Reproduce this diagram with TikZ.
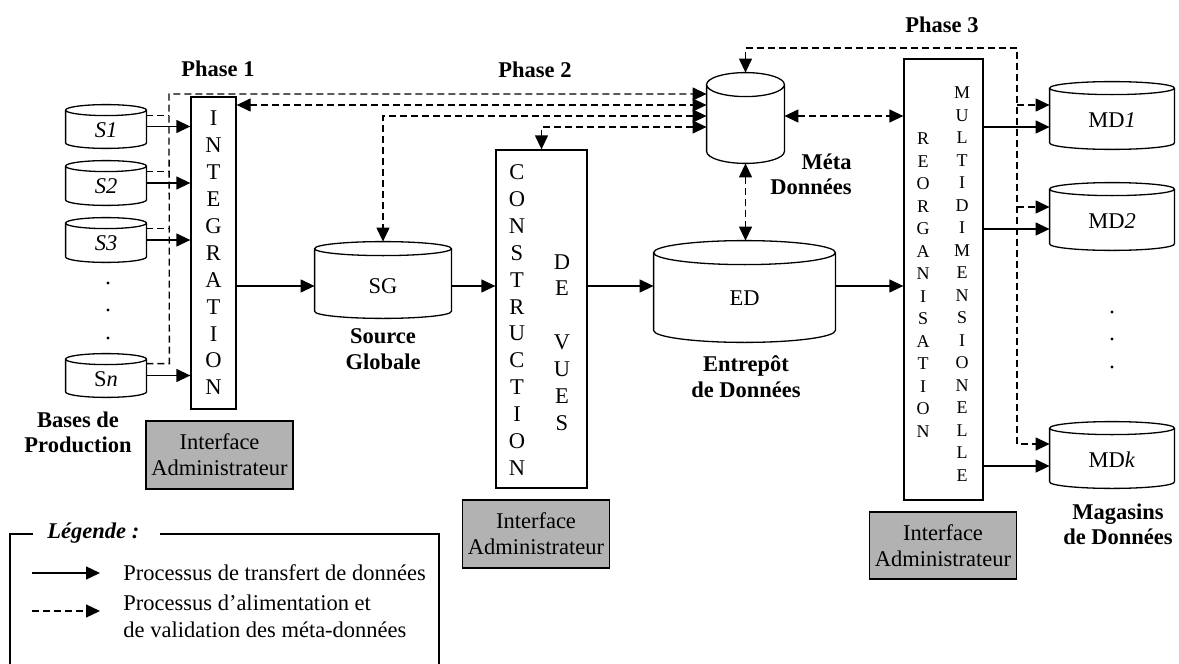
\documentclass[tikz,border=0pt]{standalone}
\usepackage{fontspec}
\setmainfont{Liberation Serif}
\usetikzlibrary{arrows.meta,calc}
\newcommand\lowtxt[2]{\raisebox{-#1}[\height][\depth]{#2}}
\newcommand\ltrfont{\fontsize{11.25}{13.45}\selectfont}
\newcommand\ltrsmall{\fontsize{9}{11.25}\selectfont}
\newcommand\cyl[2]{%
  \path[draw,line width=0.65pt] let \p1=(#1.north west), \p2=(#1.south east), \n1={(\x2-\x1)/2} in
    (\x1,\y1-#2) -- (\x1,\y2+#2) arc[start angle=180, end angle=360, x radius=\n1, y radius=#2] -- (\x2,\y1-#2)
    (\x1+\n1,\y1-#2) ellipse [x radius=\n1, y radius=#2];
}
\tikzset{
  x=0.5pt, y=-0.5pt,
  >={Triangle[length=7pt,width=6.5pt]},
  every node/.style={font=\fontsize{11.25}{13}\selectfont, inner sep=0pt},
  lw/.style={line width=0.65pt},
  body/.style={draw=none, inner sep=0pt},
  box/.style={draw, lw, inner sep=0pt},
  admin/.style={draw, lw, fill=black!30, align=center, inner sep=0pt, minimum height=34pt, minimum width=73.5pt},
  flow/.style={lw, ->},
  mline/.style={lw, dash pattern=on 3.5pt off 2pt},
  lbl/.style={font=\bfseries\fontsize{11.25}{12.75}\selectfont, align=center},
}
\begin{document}
\begin{tikzpicture}
\useasboundingbox (0,0) rectangle (1179,664);
\clip (0,0) rectangle (1179,664);

% phase labels
\node[lbl] (ph1) at (218,69) {Phase 1};
\node[lbl] (ph2) at (535,70) {Phase 2};
\node[lbl] (ph3) at (942,25) {Phase 3};

% sources
\node[body, minimum width=40pt, minimum height=21.5pt] (S1) at (106,126.5) {\lowtxt{1.75pt}{\textit{S1}}};
\node[body, minimum width=40pt, minimum height=22pt] (S2) at (106,183) {\lowtxt{1.75pt}{\textit{S2}}};
\node[body, minimum width=40pt, minimum height=22pt] (S3) at (106,240) {\lowtxt{1.75pt}{\textit{S3}}};
\node[body, minimum width=40pt, minimum height=21.5pt] (Sn) at (106,375.5) {\lowtxt{1.75pt}{S\textit{n}}};
\cyl{S1}{2.75pt}
\cyl{S2}{2.75pt}
\cyl{S3}{2.75pt}
\cyl{Sn}{2.75pt}
\fill (108,283) circle[radius=0.8pt];
\fill (108,310) circle[radius=0.8pt];
\fill (108,338) circle[radius=0.8pt];

% integration
\node[box, minimum width=22.5pt, minimum height=156pt, align=center, font=\ltrfont] (Int) at (213.5,253)
  {I\\N\\T\\E\\G\\R\\A\\T\\I\\O\\N};

% source globale
\node[body, minimum width=68pt, minimum height=38pt] (SG) at (383,280) {\lowtxt{3pt}{SG}};
\cyl{SG}{3.5pt}

% construction
\node[box, minimum width=45.5pt, minimum height=169pt] (Cons) at (541.5,319) {};
\node[align=center, font=\ltrfont] (consA) at (517,320) {C\\O\\N\\S\\T\\R\\U\\C\\T\\I\\O\\N};
\node[align=center, font=\ltrfont] (consB) at (562,342.5) {D\\E\\[13.45pt]V\\U\\E\\S};

% meta
\node[body, minimum width=38.5pt, minimum height=45pt] (Meta) at (745.5,118) {};
\cyl{Meta}{6pt}

% ED
\node[body, minimum width=90.5pt, minimum height=50.5pt] (ED) at (744.5,291.5) {\lowtxt{3.25pt}{ED}};
\cyl{ED}{6pt}

% reorganisation
\node[box, minimum width=39.5pt, minimum height=220.5pt] (Reorg) at (943.5,279.5) {};
\node[align=center, font=\ltrsmall] (reoA) at (923,285.3) {R\\E\\O\\R\\G\\A\\N\\I\\S\\A\\T\\I\\O\\N};
\node[align=center, font=\ltrsmall] (reoB) at (962,284.3) {M\\U\\L\\T\\I\\D\\I\\M\\E\\N\\S\\I\\O\\N\\E\\L\\L\\E};

% data marts
\node[body, minimum width=62pt, minimum height=33.5pt] (MD1) at (1112,115.5) {\lowtxt{2.25pt}{MD\textit{1}}};
\node[body, minimum width=62pt, minimum height=33.5pt] (MD2) at (1112,216.5) {\lowtxt{2.25pt}{MD\textit{2}}};
\node[body, minimum width=62pt, minimum height=33pt] (MDk) at (1112,455) {\lowtxt{2.25pt}{MD\textit{k}}};
\cyl{MD1}{3.25pt}
\cyl{MD2}{3.25pt}
\cyl{MDk}{3.25pt}
\fill (1112,312) circle[radius=0.8pt];
\fill (1112,339) circle[radius=0.8pt];
\fill (1112,367) circle[radius=0.8pt];

% labels
\node[lbl] (bpl) at (78,432.5) {Bases de\\Production};
\node[lbl] (sgl) at (383,349) {Source\\Globale};
\node[lbl, align=right, anchor=east] (mdl) at (852,174.5) {Méta\\Données};
\node[lbl] (edl) at (746,376.5) {Entrepôt\\de Données};
\node[lbl] (mgl) at (1118,524.5) {Magasins\\de Données};

% admin interfaces
\node[admin] (I1) at (219.5,455) {Interface\\Administrateur};
\node[admin] (I2) at (536,534) {Interface\\Administrateur};
\node[admin, minimum height=33.5pt] (I3) at (943,545.5) {Interface\\Administrateur};

% solid flows
\draw[flow] (S1.east) -- (S1.east -| Int.west);
\draw[flow] (S2.east) -- (S2.east -| Int.west);
\draw[flow] (S3.east) -- (S3.east -| Int.west);
\draw[flow] (Sn.east) -- (Sn.east -| Int.west);
\coordinate (fl) at (0,286);
\draw[flow] (Int.east |- fl) -- (SG.west |- fl);
\draw[flow] (SG.east |- fl) -- (Cons.west |- fl);
\draw[flow] (Cons.east |- fl) -- (ED.west |- fl);
\draw[flow] (ED.east |- fl) -- (Reorg.west |- fl);
\draw[flow] (Reorg.east |- 0,127) -- (MD1.west |- 0,127);
\draw[flow] (Reorg.east |- 0,229) -- (MD2.west |- 0,229);
\draw[flow] (Reorg.east |- 0,466) -- (MDk.west |- 0,466);

% dashed meta-data flows
\coordinate (j1) at (169,94);
\draw[mline] ($(S1.north east)+(0,11)$) -- ++(23,0);
\draw[mline] ($(S2.north east)+(0,11)$) -- ++(23,0);
\draw[mline] ($(S3.north east)+(0,11)$) -- ++(23,0);
\draw[mline,->] ($(Sn.north east)+(0,10)$) -- ++(23,0) -- (j1) -- (j1 -| Meta.west);
\draw[mline,<->] (Int.east |- 0,105) -- (Meta.west |- 0,105);
\draw[mline,<->] (Meta.west |- 0,116) -| (SG.north);
\draw[mline,<->] (Meta.west |- 0,127) -| (Cons.north);
\draw[mline,<->] (Meta.east |- 0,116) -- (Reorg.west |- 0,116);
\draw[mline,<->] (Meta.south) -- (Meta.south |- ED.north);
\coordinate (j2) at (1017,48);
\draw[mline,<->] (Meta.north) |- (j2) |- (MDk.west |- 0,444);
\draw[mline,->] (j2 |- 0,105) -- (MD1.west |- 0,105);
\draw[mline,->] (j2 |- 0,207) -- (MD2.west |- 0,207);

% legend (open at the bottom edge of the picture)
\draw[lw] (33,534) -- (10,534) -- (10,672);
\draw[lw] (160,534) -- (439,534) -- (439,672);
\node[font=\bfseries\itshape\fontsize{11.25}{13}\selectfont, anchor=west] (leg) at (47,533) {Légende :};
\coordinate (la1) at (32,573);
\coordinate (la2) at (100,573);
\draw[flow] (la1) -- (la2);
\node[anchor=west] (lt1) at (123,573) {Processus de transfert de données};
\coordinate (lb1) at (32,611);
\coordinate (lb2) at (100,611);
\draw[mline,->] (lb1) -- (lb2);
\node[anchor=west, align=left, font=\fontsize{11.25}{13.5}\selectfont] (lt2) at (123,616.5) {Processus d’alimentation et\\de validation des méta-données};
\end{tikzpicture}
\end{document}
